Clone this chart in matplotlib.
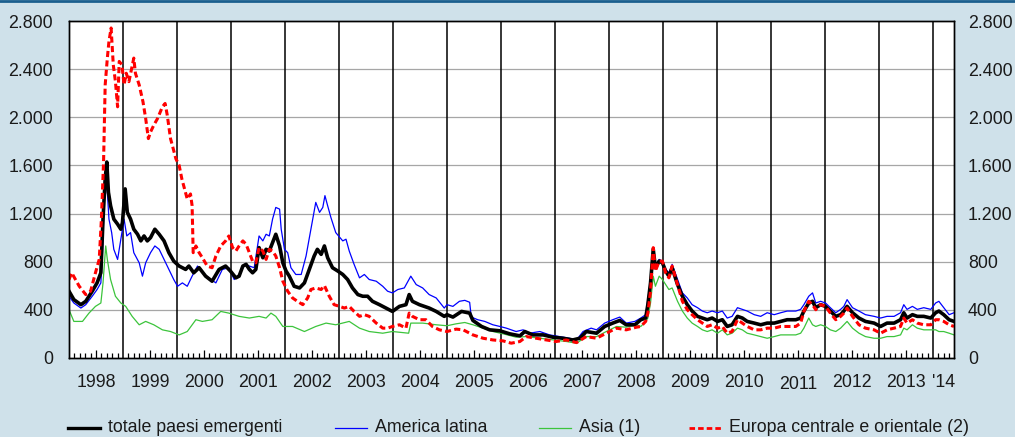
import matplotlib
matplotlib.use("Agg")
import matplotlib.pyplot as plt
from matplotlib.lines import Line2D
import numpy as np

plt.rcParams['font.family'] = ['Liberation Sans', 'DejaVu Sans']

# --- data (decimal years, basis points) ---
totale_t = [1998.00, 1998.09, 1998.22, 1998.31, 1998.43, 1998.52, 1998.59, 1998.63, 1998.67, 1998.70,
            1998.73, 1998.77, 1998.83, 1998.90, 1998.96, 1998.99, 1999.04, 1999.08, 1999.14, 1999.20,
            1999.27, 1999.33, 1999.39, 1999.45, 1999.51, 1999.59, 1999.67, 1999.76, 1999.85, 1999.94,
            2000.04, 2000.16, 2000.22, 2000.31, 2000.41, 2000.53, 2000.65, 2000.78, 2000.90, 2000.99,
            2001.09, 2001.15, 2001.22, 2001.28, 2001.34, 2001.40, 2001.46, 2001.52, 2001.59, 2001.65,
            2001.71, 2001.77, 2001.83, 2001.90, 2001.96, 2002.02, 2002.08, 2002.17, 2002.27, 2002.36,
            2002.45, 2002.54, 2002.60, 2002.67, 2002.73, 2002.79, 2002.88, 2002.98, 2003.07, 2003.16,
            2003.25, 2003.35, 2003.44, 2003.53, 2003.62, 2003.75, 2003.87, 2003.99, 2004.12, 2004.24,
            2004.30, 2004.36, 2004.49, 2004.67, 2004.80, 2004.95, 2005.00, 2005.11, 2005.27, 2005.42,
            2005.48, 2005.64, 2005.79, 2005.98, 2006.16, 2006.35, 2006.44, 2006.59, 2006.78, 2006.96,
            2007.15, 2007.33, 2007.46, 2007.58, 2007.77, 2007.92, 2008.07, 2008.20, 2008.32, 2008.48]
totale_v = [555, 485, 443, 471, 555, 624, 708, 1154, 1488, 1628,
            1377, 1265, 1154, 1112, 1070, 1126, 1405, 1210, 1154, 1070,
            1028, 973, 1014, 973, 1000, 1070, 1028, 973, 875, 805,
            764, 736, 764, 708, 750, 680, 638, 736, 764, 722,
            666, 680, 764, 778, 736, 708, 736, 917, 833, 903,
            889, 959, 1028, 931, 791, 722, 680, 596, 582, 624,
            736, 847, 903, 861, 931, 833, 750, 722, 694, 652,
            582, 527, 513, 513, 471, 443, 415, 387, 429, 443,
            527, 471, 443, 415, 387, 346, 360, 340, 387, 373,
            312, 262, 234, 226, 201, 184, 220, 192, 192, 173,
            164, 150, 164, 220, 206, 262, 290, 312, 276, 276]

latina_t = [1998.00, 1998.09, 1998.22, 1998.31, 1998.43, 1998.52, 1998.59, 1998.62, 1998.65, 1998.68,
            1998.71, 1998.74, 1998.79, 1998.83, 1998.90, 1998.96, 1999.02, 1999.07, 1999.14, 1999.20,
            1999.30, 1999.36, 1999.42, 1999.51, 1999.59, 1999.67, 1999.76, 1999.85, 1999.94, 2000.01,
            2000.10, 2000.19, 2000.28, 2000.38, 2000.47, 2000.59, 2000.72, 2000.84, 2000.96, 2001.06,
            2001.15, 2001.25, 2001.34, 2001.43, 2001.52, 2001.59, 2001.65, 2001.71, 2001.77, 2001.83,
            2001.90, 2001.93, 2001.99, 2002.05, 2002.11, 2002.20, 2002.30, 2002.39, 2002.48, 2002.57,
            2002.64, 2002.70, 2002.74, 2002.79, 2002.85, 2002.94, 2003.07, 2003.13, 2003.19, 2003.28,
            2003.38, 2003.47, 2003.56, 2003.69, 2003.81, 2003.90, 2003.99, 2004.09, 2004.21, 2004.33,
            2004.43, 2004.55, 2004.67, 2004.80, 2004.95, 2005.00, 2005.11, 2005.23, 2005.33, 2005.42,
            2005.45, 2005.57, 2005.70, 2005.85, 2005.98, 2006.10, 2006.28, 2006.41, 2006.53, 2006.72,
            2006.90, 2007.09, 2007.27, 2007.40, 2007.52, 2007.67, 2007.77, 2007.92, 2008.07, 2008.20,
            2008.32, 2008.48]
latina_v = [513, 457, 415, 443, 513, 569, 624, 875, 1265, 1544,
            1377, 1154, 1042, 903, 819, 987, 1154, 1014, 1042, 875,
            791, 680, 791, 875, 931, 903, 819, 736, 652, 596,
            624, 596, 680, 764, 708, 666, 624, 736, 750, 652,
            694, 778, 764, 750, 1014, 973, 1028, 1014, 1154, 1251,
            1237, 1070, 903, 875, 750, 694, 694, 847, 1070, 1293,
            1210, 1251, 1349, 1265, 1168, 1042, 973, 987, 889, 778,
            666, 694, 652, 638, 596, 555, 541, 569, 582, 680,
            610, 582, 527, 499, 415, 443, 429, 471, 479, 463,
            340, 318, 304, 276, 262, 248, 220, 234, 206, 220,
            192, 178, 164, 150, 220, 248, 234, 290, 318, 340,
            290, 304]

asia_t = [1998.00, 1998.09, 1998.25, 1998.37, 1998.49, 1998.59, 1998.63, 1998.68, 1998.71, 1998.77,
          1998.86, 1998.96, 1999.05, 1999.17, 1999.30, 1999.42, 1999.57, 1999.73, 1999.88, 2000.04,
          2000.19, 2000.35, 2000.47, 2000.65, 2000.81, 2000.96, 2001.15, 2001.34, 2001.52, 2001.65,
          2001.74, 2001.83, 2001.96, 2002.14, 2002.36, 2002.57, 2002.76, 2002.94, 2003.19, 2003.38,
          2003.56, 2003.81, 2003.99, 2004.29, 2004.33, 2004.55, 2004.80, 2005.00, 2005.17, 2005.33,
          2005.48, 2005.67, 2005.85, 2006.04, 2006.28, 2006.47, 2006.72, 2006.96, 2007.21, 2007.40,
          2007.58, 2007.77, 2007.95, 2008.14, 2008.32, 2008.51]
asia_v = [401, 304, 304, 373, 429, 457, 624, 931, 819, 652,
          513, 457, 429, 346, 276, 304, 276, 234, 220, 192,
          220, 318, 304, 318, 387, 373, 346, 332, 346, 332,
          373, 346, 262, 262, 220, 262, 290, 276, 304, 248,
          220, 206, 220, 206, 290, 290, 276, 268, 284, 295,
          276, 248, 220, 201, 173, 178, 164, 150, 137, 123,
          178, 178, 220, 262, 256, 276]

europa_t = [1998.00, 1998.05, 1998.19, 1998.31, 1998.40, 1998.49, 1998.56, 1998.60, 1998.64, 1998.67,
            1998.71, 1998.74, 1998.78, 1998.82, 1998.86, 1998.90, 1998.93, 1998.98, 1999.02, 1999.06,
            1999.11, 1999.20, 1999.23, 1999.30, 1999.37, 1999.42, 1999.47, 1999.51, 1999.57, 1999.64,
            1999.73, 1999.78, 1999.82, 1999.88, 1999.93, 1999.98, 2000.04, 2000.09, 2000.14, 2000.19,
            2000.25, 2000.28, 2000.30, 2000.35, 2000.41, 2000.47, 2000.56, 2000.65, 2000.72, 2000.81,
            2000.90, 2000.96, 2001.03, 2001.09, 2001.15, 2001.22, 2001.28, 2001.34, 2001.40, 2001.46,
            2001.52, 2001.59, 2001.65, 2001.71, 2001.77, 2001.83, 2001.90, 2001.96, 2002.05, 2002.14,
            2002.23, 2002.33, 2002.42, 2002.48, 2002.57, 2002.67, 2002.73, 2002.82, 2002.91, 2003.01,
            2003.10, 2003.19, 2003.28, 2003.38, 2003.47, 2003.56, 2003.69, 2003.81, 2003.90, 2003.99,
            2004.12, 2004.24, 2004.30, 2004.36, 2004.49, 2004.61, 2004.73, 2004.86, 2005.00, 2005.17,
            2005.30, 2005.48, 2005.67, 2005.85, 2006.04, 2006.19, 2006.35, 2006.47, 2006.65, 2006.84,
            2007.02, 2007.21, 2007.40, 2007.58, 2007.77, 2007.95, 2008.14, 2008.32, 2008.51]
europa_v = [652, 708, 596, 527, 555, 708, 820, 1154, 1628, 2269,
            2492, 2631, 2742, 2436, 2296, 2087, 2464, 2436, 2269, 2366,
            2296, 2492, 2366, 2269, 2129, 1990, 1823, 1878, 1934, 1990,
            2087, 2115, 2017, 1823, 1739, 1655, 1600, 1488, 1405, 1321,
            1363, 1265, 875, 931, 875, 833, 764, 750, 847, 931,
            973, 1014, 917, 889, 931, 973, 945, 875, 805, 791,
            917, 889, 819, 903, 889, 847, 750, 638, 555, 499,
            471, 443, 499, 569, 582, 569, 602, 513, 443, 429,
            415, 429, 387, 346, 360, 346, 290, 248, 248, 262,
            276, 248, 373, 346, 318, 318, 262, 234, 220, 240,
            234, 192, 164, 150, 142, 123, 137, 178, 164, 150,
            137, 150, 128, 178, 164, 206, 248, 234, 256]

# common sampling from the 2008 spike onwards
late_t = [2008.59, 2008.68, 2008.72, 2008.77, 2008.82, 2008.86, 2008.93, 2008.99, 2009.05, 2009.11,
          2009.17, 2009.27, 2009.36, 2009.45, 2009.54, 2009.64, 2009.73, 2009.82, 2009.91, 2010.01,
          2010.10, 2010.19, 2010.28, 2010.38, 2010.47, 2010.56, 2010.69, 2010.81, 2010.93, 2011.06,
          2011.18, 2011.30, 2011.46, 2011.55, 2011.61, 2011.70, 2011.77, 2011.83, 2011.92, 2012.01,
          2012.10, 2012.20, 2012.29, 2012.35, 2012.41, 2012.51, 2012.63, 2012.75, 2012.91, 2013.03,
          2013.15, 2013.28, 2013.40, 2013.46, 2013.52, 2013.62, 2013.71, 2013.83, 2013.96, 2014.05,
          2014.11, 2014.20, 2014.30, 2014.39]
totale_late = [318, 332, 443, 624, 903, 750, 805, 791, 722, 680,
               750, 610, 513, 443, 390, 346, 332, 318, 332, 304,
               318, 262, 276, 346, 332, 304, 290, 276, 290, 290,
               304, 318, 318, 332, 390, 457, 471, 418, 443, 429,
               390, 346, 360, 390, 429, 376, 332, 304, 290, 262,
               290, 290, 318, 376, 332, 360, 346, 346, 332, 376,
               390, 360, 318, 304]
latina_late = [332, 360, 485, 652, 917, 764, 819, 805, 736, 708,
               778, 652, 541, 499, 443, 418, 390, 376, 390, 376,
               390, 332, 346, 418, 404, 390, 360, 346, 376, 360,
               376, 390, 390, 404, 443, 513, 541, 457, 471, 457,
               418, 376, 404, 429, 485, 418, 390, 360, 346, 332,
               346, 346, 376, 443, 404, 429, 404, 418, 404, 457,
               471, 418, 360, 376]
asia_late = [262, 304, 332, 457, 680, 596, 680, 652, 610, 569,
             582, 471, 390, 332, 290, 262, 234, 220, 234, 206,
             234, 192, 206, 248, 234, 206, 192, 178, 164, 178,
             192, 192, 192, 206, 248, 332, 276, 262, 276, 262,
             234, 220, 248, 276, 304, 248, 206, 178, 164, 164,
             178, 178, 192, 248, 234, 276, 248, 234, 234, 234,
             220, 220, 206, 192]
europa_late = [262, 304, 373, 555, 917, 722, 805, 805, 708, 666,
               764, 610, 471, 401, 360, 318, 290, 262, 276, 248,
               262, 206, 220, 318, 290, 262, 234, 234, 248, 248,
               262, 262, 262, 290, 387, 471, 443, 401, 443, 429,
               373, 318, 346, 373, 415, 346, 276, 248, 234, 206,
               234, 248, 262, 332, 290, 318, 290, 276, 276, 318,
               318, 304, 276, 262]

labels = ["totale paesi emergenti", "America latina", "Asia (1)", "Europa centrale e orientale (2)"]
years = list(range(1998, 2014))
y_ticks = [0, 400, 800, 1200, 1600, 2000, 2400, 2800]

fs = 12.8
txt = '#1a1a1a'
bg = '#cfe1ea'
fig = plt.figure(figsize=(10.15, 4.37), dpi=100, facecolor=bg)
ax = fig.add_axes([69/1015, 79/437, 885/1015, 337/437])
ax.set_facecolor('white')

xmin, xmax = 1998.0, 2014.39
ax.set_xlim(xmin, xmax)
ax.set_ylim(0, 2800)

# grid
for v in y_ticks[1:-1]:
    ax.axhline(v, color='#a6a6a6', lw=0.9, zorder=1)
for yr in years[1:] + [2014]:
    ax.axvline(yr, color='black', lw=1.1, zorder=1.5)

# series
ax.plot(np.concatenate([asia_t, late_t]), np.concatenate([asia_v, asia_late]),
        color='#3cc43c', lw=0.9, zorder=2)
ax.plot(np.concatenate([latina_t, late_t]), np.concatenate([latina_v, latina_late]),
        color='#0000ff', lw=0.9, zorder=3)
ax.plot(np.concatenate([totale_t, late_t]), np.concatenate([totale_v, totale_late]),
        color='black', lw=2.6, zorder=4)
ax.plot(np.concatenate([europa_t, late_t]), np.concatenate([europa_v, europa_late]),
        color='#ff0000', lw=2.2, ls=(0, (2.0, 1.1)), zorder=5)

# y axes on both sides
fmt = lambda v: "{:,}".format(v).replace(",", ".")
ax.set_yticks(y_ticks)
ax.set_yticklabels([fmt(v) for v in y_ticks])
ax.tick_params(axis='y', length=0, pad=11.5, labelsize=fs, colors=txt)
ax2 = ax.twinx()
ax2.set_ylim(0, 2800)
ax2.set_yticks(y_ticks)
ax2.set_yticklabels([fmt(v) for v in y_ticks])
ax2.tick_params(axis='y', length=0, pad=10, labelsize=fs, colors=txt)

# x ticks: 10 subdivisions per year, longer one mid-year
minor = [yr + k / 10 for yr in years + [2014] for k in range(1, 10) if yr + k / 10 < xmax]
ax.set_xticks([yr + 0.5 for yr in years], minor=False)
ax.set_xticks(minor, minor=True)
ax.set_xticklabels([])
ax.tick_params(axis='x', which='major', direction='in', length=5.8, width=0.9)
ax.tick_params(axis='x', which='minor', direction='in', length=3.6, width=0.9)

for yr in years:
    ax.text(yr + 0.5, -0.078 if yr == 2011 else -0.072, str(yr), transform=ax.get_xaxis_transform(),
            ha='center', va='center', fontsize=fs, color=txt)
ax.text((2014 + xmax) / 2, -0.072, "'14", transform=ax.get_xaxis_transform(),
        ha='center', va='center', fontsize=fs, color=txt)

for a in (ax, ax2):
    for s in a.spines.values():
        s.set_color('black')
        s.set_linewidth(1.0)

# legend drawn by hand along the bottom
leg_y = 1 - 428/437
styles = [dict(color='black', lw=2.4), dict(color='#0000ff', lw=0.9),
          dict(color='#3cc43c', lw=0.9), dict(color='#ff0000', lw=2.0, ls=(0, (2.0, 1.1)))]
starts = [68, 335, 539, 689]
for x0, lab, st in zip(starts, labels, styles):
    fig.add_artist(Line2D([x0/1015, (x0 + 32)/1015], [leg_y, leg_y], transform=fig.transFigure, **st))
    fig.text((x0 + 40)/1015, leg_y, lab, ha='left', va='center', fontsize=fs, color=txt)

# dark band on top edge
fig.add_artist(Line2D([0, 1], [0.998, 0.998], transform=fig.transFigure, color='#1b5f8e', lw=2))

fig.savefig('out.png', dpi=100, facecolor=bg)
